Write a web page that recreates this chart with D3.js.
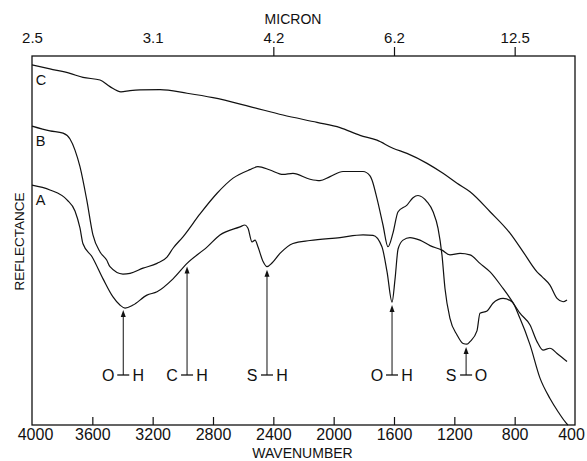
<!DOCTYPE html>
<html>
<head>
<meta charset="utf-8">
<script src="https://cdn.jsdelivr.net/npm/d3@7"></script>
<style>
  body { margin: 0; background: #fff; }
  svg { font-family: "Liberation Sans", Arial, sans-serif; }
</style>
</head>
<body>
<div id="chart"></div>
<script>
// [wavenumber (cm-1), reflectance (arbitrary units)]
var curveC = [[4000, 97.6], [3881, 96.5], [3748, 95.3], [3662, 94.2], [3549, 93.5], [3483, 91.7],
  [3410, 90.3], [3350, 90.6], [3284, 90.8], [3151, 90.9], [2972, 89.9], [2800, 88.7],
  [2555, 86.3], [2336, 84.0], [2110, 82.0], [1958, 80.6], [1825, 78.5], [1713, 77.2],
  [1607, 75.0], [1514, 73.6], [1381, 70.9], [1275, 68.2], [1182, 65.5], [1096, 63.2],
  [963, 57.8], [831, 52.0], [745, 47.0], [652, 41.5], [619, 40.2], [566, 37.9],
  [519, 34.3], [479, 33.4], [453, 33.9]];

var curveB = [[4000, 81.0], [3881, 79.7], [3794, 79.1], [3748, 77.5], [3715, 74.5], [3682, 70.0],
  [3637, 61.0], [3596, 51.5], [3549, 46.9], [3505, 44.7], [3483, 42.9], [3397, 40.9],
  [3350, 41.1], [3264, 42.5], [3171, 43.8], [3105, 45.5], [3065, 47.9], [2999, 51.0],
  [2886, 57.2], [2773, 62.8], [2667, 66.9], [2555, 69.2], [2502, 70.0], [2422, 69.1],
  [2336, 67.9], [2270, 68.2], [2157, 66.6], [2091, 66.2], [2024, 67.3], [1938, 68.7],
  [1805, 68.7], [1759, 67.5], [1746, 66.4], [1713, 61.4], [1673, 54.2], [1640, 48.3],
  [1607, 52.0], [1573, 57.8], [1514, 59.6], [1474, 61.6], [1441, 62.2], [1381, 60.5],
  [1341, 57.8], [1308, 53.3], [1282, 46.1], [1262, 37.0], [1229, 28.9], [1182, 24.4],
  [1142, 22.1], [1116, 21.9], [1096, 22.6], [1050, 25.5], [1030, 30.3], [983, 30.9],
  [944, 33.0], [877, 34.3], [818, 33.4], [765, 28.9], [698, 21.7], [632, 12.7],
  [566, 7.2], [512, 3.6], [466, 0.9], [447, 0]];

var curveA = [[4000, 65.0], [3881, 63.7], [3768, 61.0], [3715, 58.0], [3682, 53.4], [3662, 49.1],
  [3602, 45.6], [3529, 39.6], [3463, 34.7], [3417, 32.5], [3383, 31.7], [3330, 32.5],
  [3238, 35.2], [3171, 36.1], [3065, 39.6], [2972, 43.8], [2840, 48.2], [2754, 51.5],
  [2621, 53.7], [2588, 54.2], [2568, 53.3], [2541, 49.6], [2521, 50.1], [2502, 48.3],
  [2468, 44.3], [2442, 42.9], [2409, 43.9], [2356, 46.5], [2270, 49.2], [2157, 50.0],
  [1958, 50.8], [1805, 51.5], [1739, 51.4], [1680, 48.3], [1646, 41.5], [1613, 33.3],
  [1593, 39.6], [1573, 47.7], [1540, 50.1], [1494, 50.8], [1428, 50.1], [1361, 48.6],
  [1282, 47.4], [1229, 46.1], [1162, 46.5], [1096, 46.1], [1030, 43.8], [963, 41.5],
  [877, 37.0], [831, 34.4], [765, 30.3], [698, 27.1], [652, 22.6], [612, 20.3],
  [566, 20.8], [519, 19.4], [453, 17.2]];

var curveNames = ["C", "B", "A"];

var wavenumberTicks = [4000, 3600, 3200, 2800, 2400, 2000, 1600, 1200, 800, 400];
var micronTicks = [4000, 3200, 2400, 1600, 800];
var micronLabels = ["2.5", "3.1", "4.2", "6.2", "12.5"];

var bandWavenumbers = [3395, 2972, 2442, 1613, 1122];
var bandLabels = [["O", "H"], ["C", "H"], ["S", "H"], ["O", "H"], ["S", "O"]];
var bandCurves = ["A", "A", "A", "A", "B"];

(function() {
  var margin = { top: 56, left: 32, right: 12, bottom: 36 },
    width = 587 - margin.left - margin.right,
    height = 461 - margin.top - margin.bottom;

  var svg = d3.select("#chart")
    .append("svg")
    .attr("width", width + margin.left + margin.right)
    .attr("height", height + margin.top + margin.bottom)
    .append("g")
    .attr("transform", "translate(" + margin.left + "," + margin.top + ")");

  var xPositionScale = d3.scaleLinear().domain([4000, 400]).range([0, width]);
  var yPositionScale = d3.scaleLinear().domain([0, 100]).range([height, 0]);

  var curves = { C: curveC, B: curveB, A: curveA };

  // frame
  svg.append("rect")
    .attr("width", width)
    .attr("height", height)
    .attr("fill", "none")
    .attr("stroke", "#111")
    .attr("stroke-width", 1.3);

  // bottom axis, ticks pointing inside
  var xAxis = d3.axisBottom(xPositionScale)
    .tickValues(wavenumberTicks)
    .tickSizeInner(-8)
    .tickSizeOuter(0)
    .tickPadding(4)
    .tickFormat(d3.format("d"));
  var xg = svg.append("g")
    .attr("class", "axis x-axis")
    .attr("transform", "translate(0," + height + ")")
    .call(xAxis);

  // top axis in micron
  var topAxis = d3.axisTop(xPositionScale)
    .tickValues(micronTicks)
    .tickSizeInner(9)
    .tickSizeOuter(0)
    .tickPadding(4)
    .tickFormat(function(d) { return micronLabels[micronTicks.indexOf(d)]; });
  var tg = svg.append("g")
    .attr("class", "axis top-axis")
    .call(topAxis);
  tg.selectAll(".tick line")
    .attr("opacity", function(d) { return d >= 3200 ? 0 : 1; });

  [xg, tg].forEach(function(g) {
    g.select(".domain").remove();
    g.selectAll(".tick line").attr("stroke", "#111").attr("stroke-width", 1.2);
    g.selectAll(".tick text")
      .attr("fill", "#111")
      .style("font-family", "'Liberation Sans', Arial, sans-serif");
  });
  xg.selectAll(".tick line").filter(function(d) { return d === 4000 || d === 400; }).remove();
  xg.selectAll(".tick text")
    .style("font-size", "16px")
    .attr("dx", function(d) { return d === 400 ? -4 : (d === 4000 ? 3 : 0); });
  tg.selectAll(".tick text").style("font-size", "15px");

  // titles
  svg.append("text")
    .attr("x", 261)
    .attr("y", -32)
    .attr("text-anchor", "middle")
    .attr("font-size", 14)
    .attr("fill", "#111")
    .text("MICRON");

  svg.append("text")
    .attr("x", width / 2 - 1)
    .attr("y", height + 33)
    .attr("text-anchor", "middle")
    .attr("font-size", 14)
    .attr("fill", "#111")
    .text("WAVENUMBER");

  svg.append("text")
    .attr("transform", "translate(-8," + (height / 2 + 1) + ") rotate(-90)")
    .attr("text-anchor", "middle")
    .attr("font-size", 13.5)
    .attr("fill", "#111")
    .text("REFLECTANCE");

  // spectra
  var line = d3.line()
    .curve(d3.curveMonotoneX)
    .x(function(d) { return xPositionScale(d[0]); })
    .y(function(d) { return yPositionScale(d[1]); });

  curveNames.forEach(function(name) {
    var data = curves[name];
    svg.append("path")
      .datum(data)
      .attr("d", line)
      .attr("fill", "none")
      .attr("stroke", "#111")
      .attr("stroke-width", 1.2)
      .attr("stroke-linejoin", "round");

    svg.append("text")
      .attr("x", xPositionScale(3975))
      .attr("y", yPositionScale(data[0][1]) + 20)
      .attr("font-size", 14.5)
      .attr("fill", "#111")
      .text(name);
  });

  function valueAt(data, wn) {
    for (var i = 0; i < data.length - 1; i++) {
      var a = data[i], b = data[i + 1];
      if (wn <= a[0] && wn >= b[0]) {
        var t = (a[0] - wn) / (a[0] - b[0]);
        return a[1] + t * (b[1] - a[1]);
      }
    }
    return data[data.length - 1][1];
  }

  // band assignments
  var labelY = 319;
  bandWavenumbers.forEach(function(wn, i) {
    var bx = xPositionScale(wn);
    var tipY = yPositionScale(valueAt(curves[bandCurves[i]], wn)) + 3;
    var g = svg.append("g");

    g.append("line")
      .attr("x1", bx).attr("x2", bx)
      .attr("y1", tipY + 5).attr("y2", labelY)
      .attr("stroke", "#111")
      .attr("stroke-width", 1);

    g.append("path")
      .attr("d", "M" + bx + "," + tipY + "L" + (bx - 2.5) + "," + (tipY + 7) + "L" + (bx + 2.5) + "," + (tipY + 7) + "Z")
      .attr("fill", "#111");

    g.append("line")
      .attr("x1", bx - 6).attr("x2", bx + 6)
      .attr("y1", labelY).attr("y2", labelY)
      .attr("stroke", "#111")
      .attr("stroke-width", 1.3);

    g.append("text")
      .attr("x", bx - 15)
      .attr("y", labelY + 6)
      .attr("text-anchor", "middle")
      .attr("font-size", 16)
      .attr("fill", "#111")
      .text(bandLabels[i][0]);

    g.append("text")
      .attr("x", bx + 15)
      .attr("y", labelY + 6)
      .attr("text-anchor", "middle")
      .attr("font-size", 16)
      .attr("fill", "#111")
      .text(bandLabels[i][1]);
  });
})();
</script>
</body>
</html>
